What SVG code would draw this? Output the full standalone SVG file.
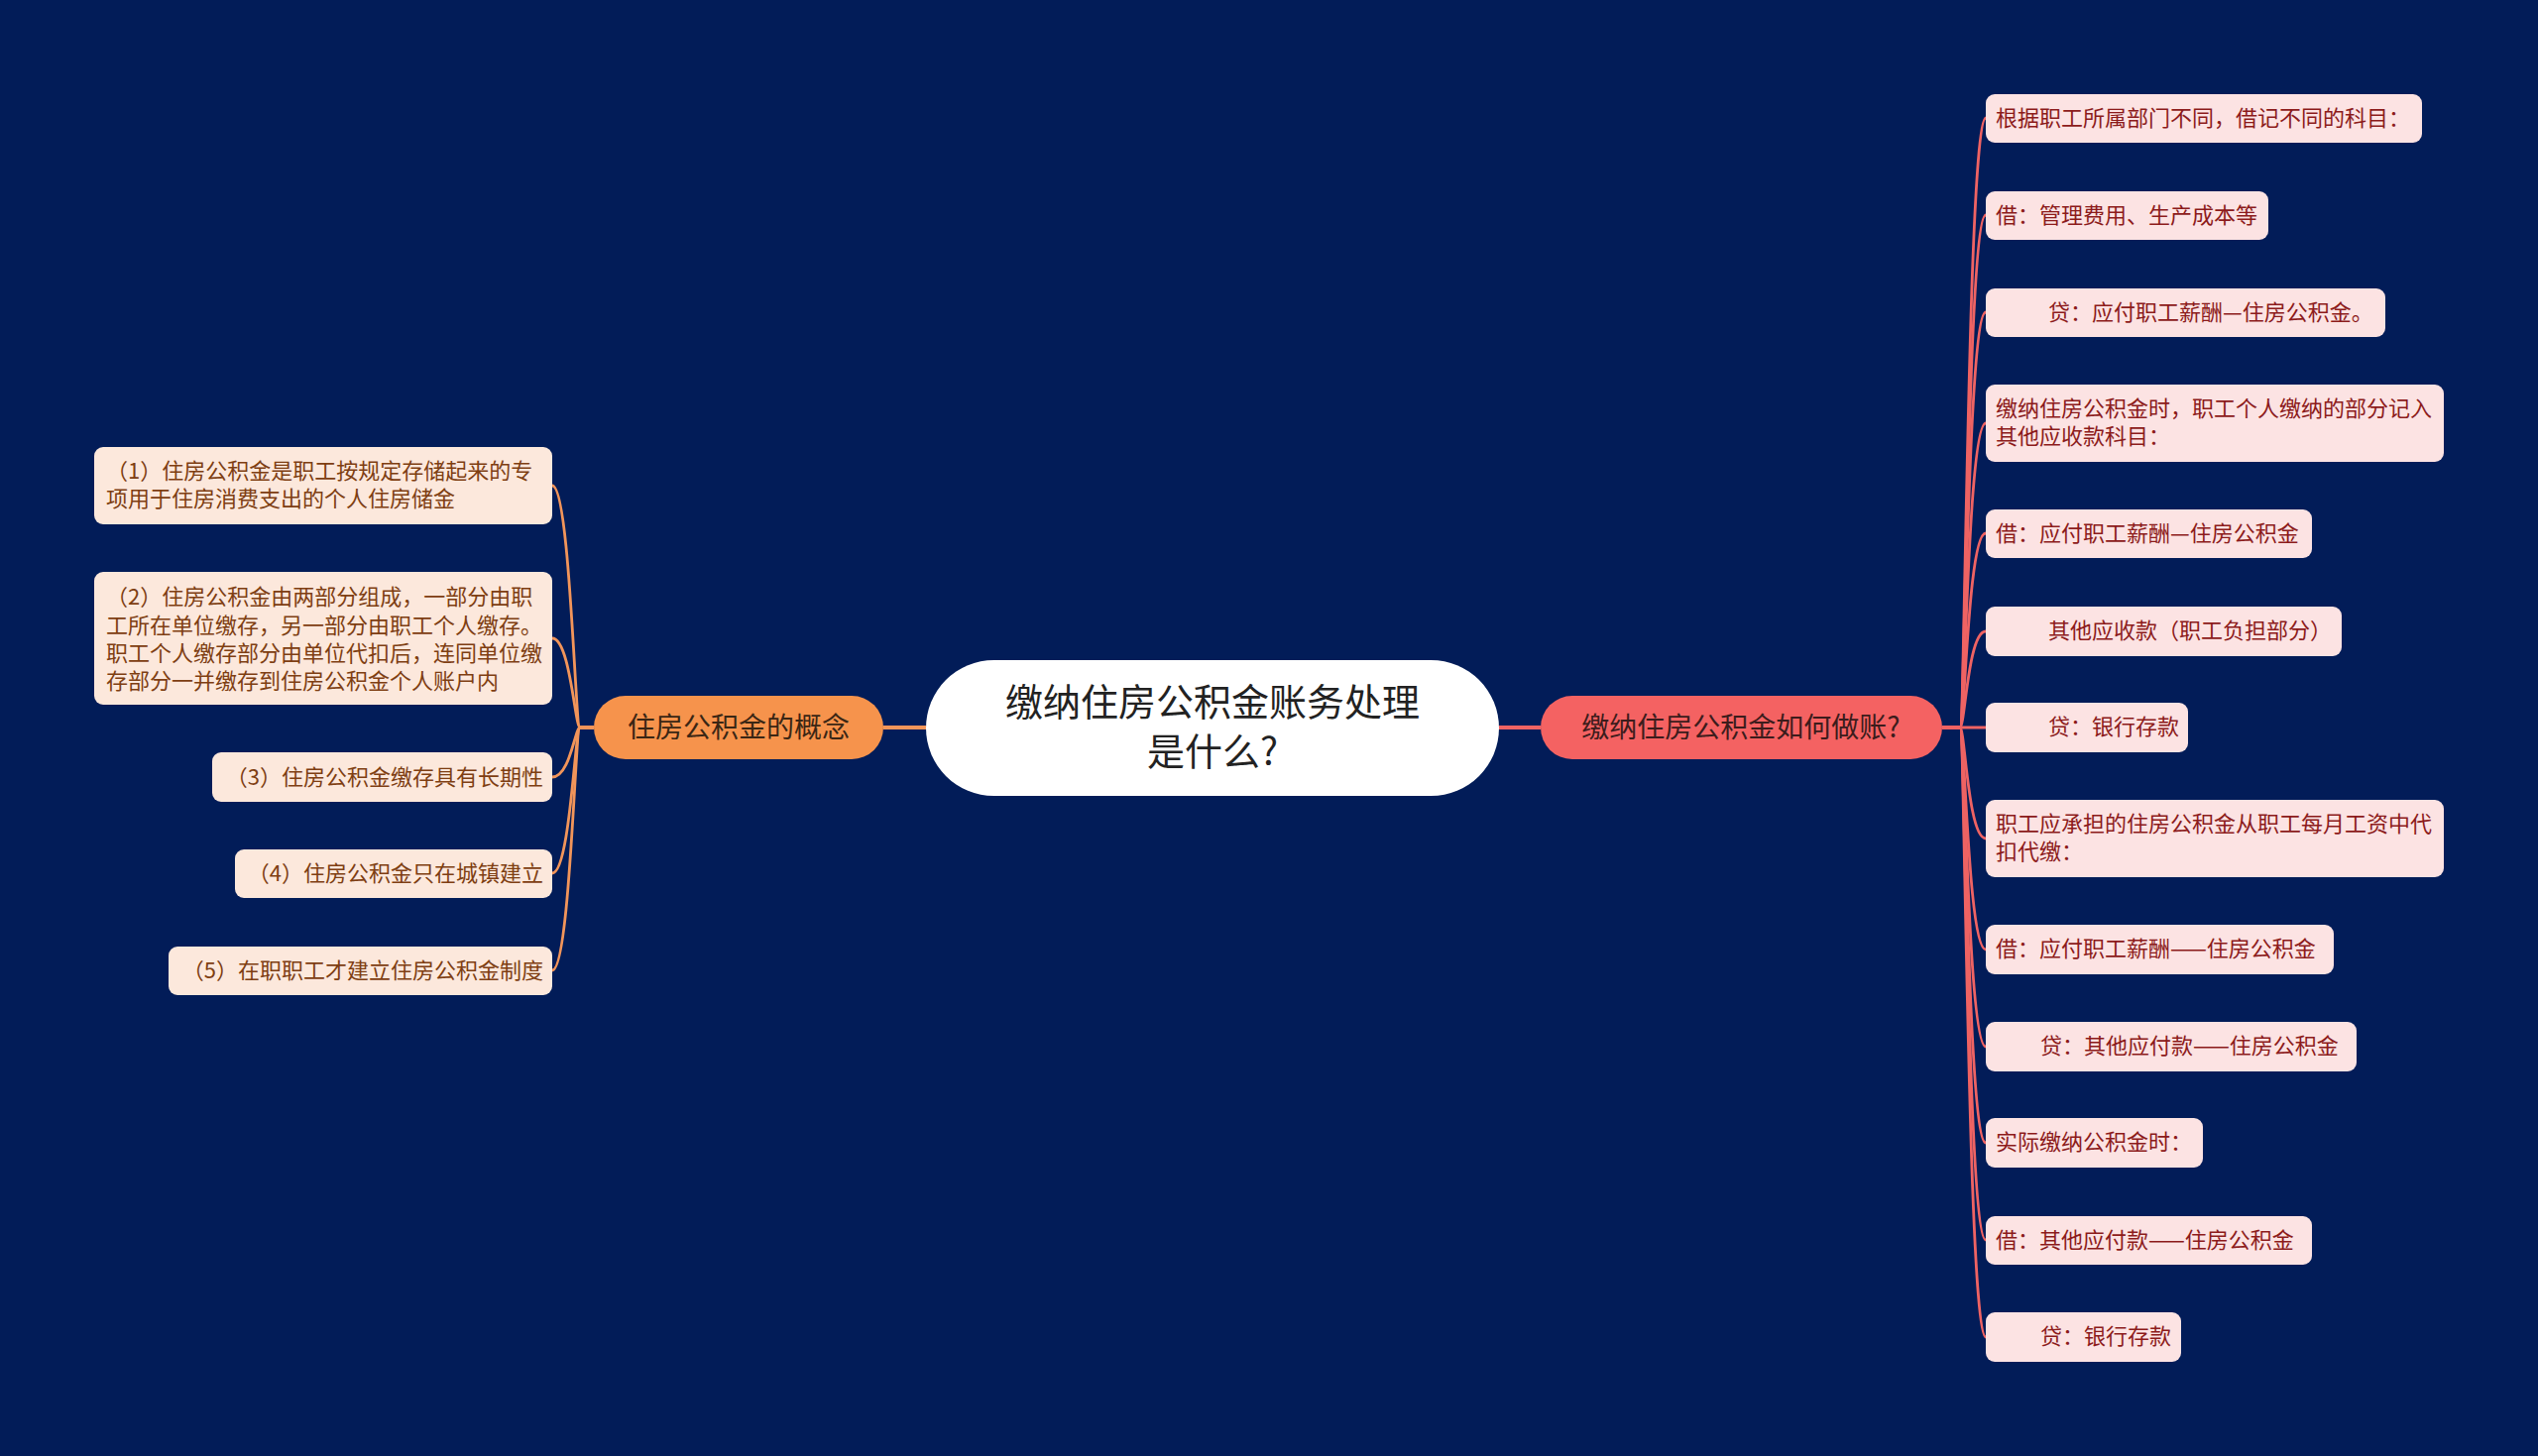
<svg xmlns="http://www.w3.org/2000/svg" width="2560" height="1469" viewBox="0 0 2560 1469">
<style>
text{font-family:"Noto Sans CJK SC","Noto Sans",sans-serif;}
.lbox{fill:#FCE8DC;}
.rbox{fill:#FCE3E3;}
.lt{font-size:22px;fill:#7E3E12;}
.rt{font-size:22px;fill:#8C1B1B;}
.lc{fill:none;stroke:#F2955A;stroke-width:2.8;}
.rc{fill:none;stroke:#EF6363;stroke-width:2.8;}
</style>
<rect width="2560" height="1469" fill="#021C58"/>
<g id="connectors">
<line x1="891" y1="734" x2="934" y2="734" stroke="#F2955A" stroke-width="4"/>
<line x1="1512" y1="734" x2="1554" y2="734" stroke="#EF6363" stroke-width="4"/>
<path class="lc" d="M599,734 L585,734 C580,734 575,490 557,490"/>
<path class="lc" d="M599,734 L585,734 C580,734 575,644 557,644"/>
<path class="lc" d="M599,734 L585,734 C580,734 575,784 557,784"/>
<path class="lc" d="M599,734 L585,734 C580,734 575,881 557,881"/>
<path class="lc" d="M599,734 L585,734 C580,734 575,979 557,979"/>
<path class="rc" d="M1959,734 L1977,734 C1982,734 1985,119 2003,119"/>
<path class="rc" d="M1959,734 L1977,734 C1982,734 1985,217 2003,217"/>
<path class="rc" d="M1959,734 L1977,734 C1982,734 1985,315 2003,315"/>
<path class="rc" d="M1959,734 L1977,734 C1982,734 1985,427 2003,427"/>
<path class="rc" d="M1959,734 L1977,734 C1982,734 1985,538 2003,538"/>
<path class="rc" d="M1959,734 L1977,734 C1982,734 1985,637 2003,637"/>
<path class="rc" d="M1959,734 L2003,734"/>
<path class="rc" d="M1959,734 L1977,734 C1982,734 1985,846 2003,846"/>
<path class="rc" d="M1959,734 L1977,734 C1982,734 1985,958 2003,958"/>
<path class="rc" d="M1959,734 L1977,734 C1982,734 1985,1056 2003,1056"/>
<path class="rc" d="M1959,734 L1977,734 C1982,734 1985,1153 2003,1153"/>
<path class="rc" d="M1959,734 L1977,734 C1982,734 1985,1251 2003,1251"/>
<path class="rc" d="M1959,734 L1977,734 C1982,734 1985,1349 2003,1349"/>
</g>
<g id="root">
<rect x="934" y="666" width="578" height="137" rx="68.5" fill="#FFFFFF"/>
<text x="1223" y="722" font-size="38" fill="#222222" text-anchor="middle">缴纳住房公积金账务处理</text>
<text x="1223" y="772" font-size="38" fill="#222222" text-anchor="middle">是什么?</text>
</g>
<g id="branch-left">
<rect x="599" y="702" width="292" height="64" rx="32" fill="#F6934C"/>
<text x="745" y="744" font-size="28" fill="#3A2614" text-anchor="middle">住房公积金的概念</text>
</g>
<g id="branch-right">
<rect x="1554" y="702" width="405" height="64" rx="32" fill="#F46262"/>
<text x="1756" y="744" font-size="28" fill="#3C1C1C" text-anchor="middle">缴纳住房公积金如何做账?</text>
</g>
<g id="l1"><rect class="lbox" x="95" y="451" width="462" height="78" rx="9"/>
<text class="lt" x="107" y="483">（1）住房公积金是职工按规定存储起来的专</text>
<text class="lt" x="107" y="511">项用于住房消费支出的个人住房储金</text></g>
<g id="l2"><rect class="lbox" x="95" y="577" width="462" height="134" rx="9"/>
<text class="lt" x="107" y="610">（2）住房公积金由两部分组成，一部分由职</text>
<text class="lt" x="107" y="639">工所在单位缴存，另一部分由职工个人缴存。</text>
<text class="lt" x="107" y="667">职工个人缴存部分由单位代扣后，连同单位缴</text>
<text class="lt" x="107" y="695">存部分一并缴存到住房公积金个人账户内</text></g>
<g id="l3"><rect class="lbox" x="214" y="759" width="343" height="50" rx="9"/>
<text class="lt" x="548" y="792" text-anchor="end">（3）住房公积金缴存具有长期性</text></g>
<g id="l4"><rect class="lbox" x="237" y="857" width="320" height="49" rx="9"/>
<text class="lt" x="548" y="889" text-anchor="end">（4）住房公积金只在城镇建立</text></g>
<g id="l5"><rect class="lbox" x="170" y="955" width="387" height="49" rx="9"/>
<text class="lt" x="548" y="987" text-anchor="end">（5）在职职工才建立住房公积金制度</text></g>
<g id="r1"><rect class="rbox" x="2003" y="95" width="440" height="49" rx="9"/>
<text class="rt" x="2013" y="127">根据职工所属部门不同，借记不同的科目：</text></g>
<g id="r2"><rect class="rbox" x="2003" y="193" width="285" height="49" rx="9"/>
<text class="rt" x="2013" y="225">借：管理费用、生产成本等</text></g>
<g id="r3"><rect class="rbox" x="2003" y="291" width="403" height="49" rx="9"/>
<text class="rt" x="2066" y="323">贷：应付职工薪酬—住房公积金。</text></g>
<g id="r4"><rect class="rbox" x="2003" y="388" width="462" height="78" rx="9"/>
<text class="rt" x="2013" y="420">缴纳住房公积金时，职工个人缴纳的部分记入</text>
<text class="rt" x="2013" y="448">其他应收款科目：</text></g>
<g id="r5"><rect class="rbox" x="2003" y="514" width="329" height="49" rx="9"/>
<text class="rt" x="2013" y="546">借：应付职工薪酬—住房公积金</text></g>
<g id="r6"><rect class="rbox" x="2003" y="612" width="359" height="50" rx="9"/>
<text class="rt" x="2066" y="644">其他应收款（职工负担部分）</text></g>
<g id="r7"><rect class="rbox" x="2003" y="709" width="204" height="50" rx="9"/>
<text class="rt" x="2066" y="741">贷：银行存款</text></g>
<g id="r8"><rect class="rbox" x="2003" y="807" width="462" height="78" rx="9"/>
<text class="rt" x="2013" y="839">职工应承担的住房公积金从职工每月工资中代</text>
<text class="rt" x="2013" y="867">扣代缴：</text></g>
<g id="r9"><rect class="rbox" x="2003" y="933" width="351" height="50" rx="9"/>
<text class="rt" x="2013" y="965">借：应付职工薪酬——住房公积金</text></g>
<g id="r10"><rect class="rbox" x="2003" y="1031" width="374" height="50" rx="9"/>
<text class="rt" x="2058" y="1063">贷：其他应付款——住房公积金</text></g>
<g id="r11"><rect class="rbox" x="2003" y="1128" width="219" height="50" rx="9"/>
<text class="rt" x="2013" y="1160">实际缴纳公积金时：</text></g>
<g id="r12"><rect class="rbox" x="2003" y="1227" width="329" height="49" rx="9"/>
<text class="rt" x="2013" y="1259">借：其他应付款——住房公积金</text></g>
<g id="r13"><rect class="rbox" x="2003" y="1324" width="197" height="50" rx="9"/>
<text class="rt" x="2058" y="1356">贷：银行存款</text></g>
</svg>
